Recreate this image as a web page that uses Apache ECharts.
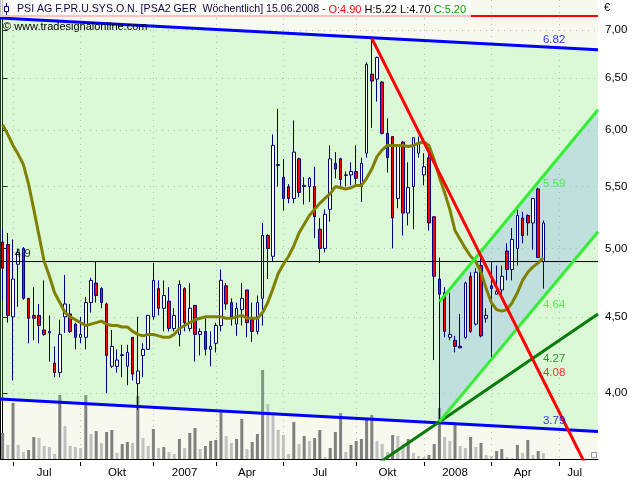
<!DOCTYPE html>
<html><head><meta charset="utf-8">
<script src="https://cdn.jsdelivr.net/npm/echarts@6/dist/echarts.min.js"></script>
<style>html,body{margin:0;padding:0;background:#fff}#c{width:640px;height:480px}</style>
</head><body><div id="c"></div>
<script>
// ---------- data (weekly, PSI AG) ----------
const firstWeek = [2006, 5, 12];   // Monday of first weekly bar
const weekCount = 115;             // bars + empty space to the right
// [open, close, low, high]
const ohlc = [
 [5.05,4.85,4.62,5.15],[5.03,4.51,4.46,5.12],[4.50,4.77,4.08,5.07],[4.88,4.97,4.57,5.00],[5.00,4.63,4.62,5.01],
 [4.63,4.49,4.32,4.63],[4.51,4.49,4.34,4.71],[4.51,4.44,4.32,4.59],[4.41,4.38,4.37,4.76],[4.39,4.40,4.20,4.51],
 [4.19,4.13,4.10,4.30],[4.13,4.38,4.10,4.48],[4.50,4.59,4.39,4.80],[4.52,4.40,4.39,4.59],[4.45,4.36,4.28,4.46],
 [4.36,4.38,4.32,4.50],[4.36,4.60,4.28,4.64],[4.60,4.76,4.53,4.78],[4.74,4.65,4.60,4.90],[4.70,4.60,4.56,4.71],
 [4.59,4.24,4.00,4.60],[4.17,4.30,4.16,4.41],[4.17,4.21,4.13,4.28],[4.24,4.245,4.10,4.31],[4.17,4.26,4.05,4.31],
 [4.36,4.12,4.08,4.36],[4.06,4.14,3.90,4.50],[4.24,4.28,4.10,4.32],[4.28,4.51,4.28,4.51],[4.50,4.76,4.48,4.89],
 [4.70,4.56,4.51,4.76],[4.56,4.65,4.40,4.76],[4.61,4.42,4.40,4.71],[4.42,4.51,4.40,4.56],[4.38,4.73,4.30,4.76],
 [4.70,4.46,4.40,4.71],[4.42,4.56,4.40,4.74],[4.58,4.38,4.20,4.58],[4.38,4.40,4.24,4.42],[4.40,4.28,4.24,4.49],
 [4.28,4.30,4.17,4.40],[4.32,4.44,4.26,4.46],[4.44,4.76,4.40,4.84],[4.72,4.59,4.55,4.74],[4.60,4.50,4.44,4.63],
 [4.45,4.56,4.37,4.60],[4.55,4.63,4.44,4.74],[4.69,4.46,4.36,4.69],[4.48,4.40,4.33,4.60],[4.40,4.60,4.38,4.65],
 [4.63,5.10,4.44,5.20],[5.10,5.00,4.77,5.11],[4.94,5.86,4.90,5.96],[5.68,5.69,5.50,6.20],[5.58,5.40,5.30,5.74],
 [5.50,5.40,5.36,5.52],[5.40,5.80,5.36,6.09],[5.74,5.45,5.41,5.75],[5.50,5.51,5.35,5.58],[5.50,5.57,5.37,5.58],
 [5.50,5.25,5.08,5.67],[5.15,5.00,4.89,5.24],[5.00,5.27,4.97,5.31],[5.31,5.74,5.21,5.86],[5.70,5.65,5.57,5.80],
 [5.74,5.56,5.50,5.75],[5.595,5.60,5.50,5.63],[5.60,5.63,5.51,5.71],[5.63,5.57,5.50,5.86],[5.50,5.70,5.37,5.75],
 [5.79,6.64,5.75,6.66],[6.54,6.47,6.02,6.90],[6.49,6.71,6.27,6.72],[6.46,5.97,5.96,6.47],[5.97,5.75,5.62,6.11],
 [5.94,5.24,5.00,5.94],[5.40,5.86,5.32,5.87],[5.89,5.28,5.10,5.90],[5.28,5.49,5.18,5.71],[5.50,5.93,5.15,5.93],
 [5.79,5.88,5.75,5.94],[5.60,5.67,5.51,5.79],[5.75,5.20,5.14,5.84],[5.25,4.79,4.21,5.25],[4.77,4.66,3.83,4.93],
 [4.67,4.40,4.36,4.71],[4.36,4.38,4.34,4.67],[4.34,4.30,4.26,4.37],[4.30,4.29,4.29,4.52],[4.36,4.74,4.35,4.75],
 [4.79,4.40,4.39,4.82],[4.45,4.82,4.44,4.85],[4.87,4.37,4.36,4.93],[4.49,4.51,4.46,4.56],[4.72,4.70,4.22,4.90],
 [4.66,4.68,4.66,4.87],[4.69,4.79,4.62,4.87],[4.98,4.84,4.76,5.04],[4.84,5.07,4.76,5.16],[5.00,5.26,4.87,5.31],
 [5.24,5.10,5.04,5.29],[5.26,5.20,5.10,5.27],[5.20,5.40,4.99,5.40],[5.48,4.93,4.93,5.49],[4.90,5.20,4.70,5.22]
];
// volume, thousand shares
const volumeK = [
 26,14,56,14,7,9,22,21,13,12, 5,64,33,13,12,11,64,25,28,16, 27,29,6,15,17,16,63,21,13,30,
 11,12,7,5,20,11,26,31,10,13, 18,19,47,23,16,20,40,10,17,25, 89,55,47,29,24,5,37,15,23,18,
 21,29,2,11,27,46,7,14,18,20, 40,44,18,15,7,24,23,15,20,6, 3,2,4,15,51,22,18,35,13,11,
 22,12,16,4,3,8,10,2,1,14, 6,19,4,8,6
];
// moving average
const movingAvg = [
 6.05,5.96,5.86,5.78,5.69,5.52,5.31,5.10,4.90,4.79, 4.67,4.60,4.53,4.50,4.48,4.46,4.44,4.45,4.46,4.47,
 4.45,4.44,4.44,4.43,4.43,4.40,4.38,4.37,4.38,4.38, 4.37,4.36,4.36,4.38,4.42,4.44,4.46,4.48,4.49,4.50,
 4.50,4.50,4.50,4.49,4.49,4.50,4.51,4.49,4.49,4.49, 4.53,4.60,4.70,4.81,4.88,4.94,5.02,5.12,5.19,5.26,
 5.31,5.36,5.40,5.44,5.50,5.49,5.48,5.49,5.51,5.51, 5.57,5.65,5.76,5.82,5.86,5.86,5.86,5.86,5.85,5.86,
 5.88,5.89,5.86,5.73,5.58,5.45,5.31,5.14,5.07,5.00, 4.94,4.90,4.82,4.70,4.60,4.55,4.54,4.55,4.60,4.67,
 4.76,4.82,4.86,4.89,4.93
];
// drawn lines: [weekIndex, price]
const upperBlue  = [[-0.5, 7.13], [114.5, 6.79]];
const lowerBlue  = [[-0.5, 3.965], [114.5, 3.772]];
const redTrend   = [[71, 6.91], [112, 3.59]];
const upperGreen = [[84, 4.606], [114.5, 6.19]];
const lowerGreen = [[84, 3.829], [114.5, 5.13]];
const darkGreen  = [[72, 3.586], [114.5, 4.52]];
const levelLine  = 4.9;
const topLine    = 7.153;
const lineValues = [6.82, 5.59, 4.64, 4.27, 4.08, 3.79];
const labelWeek  = 104;
// axis
const priceTicks = [4, 4.5, 5, 5.5, 6, 6.5, 7];
const quarterTickWeeks = [2, 15, 29, 41, 54, 68, 81, 94, 107];
const monthLabelWeeks = [8, 22, 35, 47, 61, 74, 87, 100, 110];
const monthLabelTexts = ['Jul', 'Okt', '2007', 'Apr', 'Jul', 'Okt', '2008', 'Apr', 'Jul'];
const header = 'PSI AG F.PR.U.SYS.O.N. [PSA2 GER  Wöchentlich] 15.06.2008 - ';
const quote = { o: 'O:4.90', h: 'H:5.22', l: 'L:4.70', c: 'C:5.20' };

// ---------- build ----------
const weeks = [];
for (let k = 0; k < weekCount; k++) {
  const d = new Date(Date.UTC(firstWeek[0], firstWeek[1], firstWeek[2] + 7 * k));
  weeks.push(d.toISOString().slice(0, 10));
}
const FONT = '"Liberation Sans", Arial, sans-serif';
const GRIDC = '#b2c2b2';
const NAVY = '#000080';
const volData = volumeK.map((v, i) => ({
  value: v, itemStyle: { color: (i === 0 || v > volumeK[i - 1]) ? '#808080' : '#c0c0c0' }
}));

function seg(data, color, width, z) {
  return { type: 'line', xAxisIndex: 2, yAxisIndex: 0, data, symbol: 'none', clip: true,
    lineStyle: { color, width }, z, silent: true };
}
function band(upper, lower, fill, z) {
  return { type: 'custom', xAxisIndex: 2, yAxisIndex: 0, z, silent: true, data: [upper[0]],
    renderItem: (p, api) => ({
      type: 'polygon',
      shape: { points: [api.coord(upper[0]), api.coord(upper[1]), api.coord(lower[1]), api.coord(lower[0])] },
      style: { fill }
    }) };
}
const labelColors = ['#0000ff', '#33ee33', '#33ee33', '#007a00', '#ff0000', '#0000ff'];
const labelAbove  = [true, false, false, false, true, true];
const lineLabelData = lineValues.map((v, i) => ({
  value: [labelWeek, v],
  label: { show: true, formatter: v.toFixed(2), color: labelColors[i], position: [0, 0],
    align: 'left', verticalAlign: labelAbove[i] ? 'bottom' : 'top', offset: [0, labelAbove[i] ? -1 : 2],
    fontFamily: FONT, fontSize: 11.5 }
}));

const chart = echarts.init(document.getElementById('c'));
chart.setOption({
  animation: false,
  backgroundColor: '#ffffff',
  grid: { left: 0, right: 42, top: 0, bottom: 21, show: true, backgroundColor: '#f7f9ee', borderWidth: 0 },
  xAxis: [
    { type: 'category', data: weeks, boundaryGap: true,
      axisLine: { show: true, lineStyle: { color: '#000', width: 1 } },
      axisTick: { show: false }, axisLabel: { show: false },
      splitLine: { show: true, alignWithLabel: true, interval: (i) => quarterTickWeeks.includes(i),
        lineStyle: { type: [1, 5], color: GRIDC, width: 1 } } },
    { type: 'category', data: weeks, boundaryGap: true, position: 'bottom', offset: 3,
      axisLine: { show: false },
      axisTick: { show: true, alignWithLabel: true, length: 4, interval: (i) => quarterTickWeeks.includes(i),
        lineStyle: { color: '#000' } },
      axisLabel: { show: true, interval: (i) => monthLabelWeeks.includes(i),
        formatter: (v, i) => monthLabelTexts[monthLabelWeeks.indexOf(i)] || '',
        color: '#000', fontFamily: FONT, fontSize: 11.5, margin: 5 },
      splitLine: { show: false } },
    { type: 'value', min: -0.5, max: weekCount - 0.5, show: false }
  ],
  yAxis: [
    { type: 'log', logBase: 10, position: 'right', min: 3.615, max: 7.331,
      axisLine: { show: true, lineStyle: { color: '#000', width: 1 } },
      axisTick: { show: true, length: 5, customValues: priceTicks, lineStyle: { color: '#000' } },
      axisLabel: { show: true, customValues: priceTicks, margin: 7,
        formatter: (v) => Number(v).toFixed(2).replace('.', ','),
        color: '#000', fontFamily: FONT, fontSize: 11.5 },
      splitLine: { show: true, lineStyle: { type: [1, 5], color: GRIDC, width: 1 } } },
    { type: 'value', min: 0, max: 459, position: 'left',
      axisLine: { show: true, lineStyle: { color: '#000', width: 1 } },
      axisTick: { show: false }, axisLabel: { show: false }, splitLine: { show: false } }
  ],
  series: [
    { type: 'bar', xAxisIndex: 0, yAxisIndex: 1, data: volData, barWidth: 3, z: 1, silent: true },
    band(upperBlue, lowerBlue, 'rgba(120,240,130,0.22)', 2),
    band(upperGreen, lowerGreen, 'rgba(140,180,235,0.35)', 3),
    seg([[-0.5, topLine], [weekCount - 0.5, topLine]], '#ff0000', 2, 4),
    { type: 'candlestick', xAxisIndex: 0, yAxisIndex: 0, data: ohlc, barWidth: 3, z: 5, silent: true,
      itemStyle: { color: '#ffffff', color0: '#ff0000', borderColor: NAVY, borderColor0: NAVY, borderWidth: 1 } },
    seg([[-0.5, levelLine], [weekCount - 0.5, levelLine]], '#000000', 1, 6),
    { type: 'scatter', xAxisIndex: 2, yAxisIndex: 0, symbolSize: 1, z: 6, silent: true,
      itemStyle: { color: 'rgba(0,0,0,0)' },
      data: [{ value: [2.4, levelLine], label: { show: true, formatter: String(levelLine), color: '#000',
        position: [0, 0], align: 'left', verticalAlign: 'bottom', offset: [0, -1], fontFamily: FONT, fontSize: 11.5 } }] },
    { type: 'line', xAxisIndex: 0, yAxisIndex: 0, data: movingAvg, symbol: 'none', z: 7, silent: true,
      lineStyle: { color: '#808000', width: 3 } },
    seg(upperBlue, '#0000ff', 3, 8),
    seg(lowerBlue, '#0000ff', 3, 8),
    seg(darkGreen, '#0a7a0a', 3, 8),
    seg(upperGreen, '#33ee33', 3, 8),
    seg(lowerGreen, '#33ee33', 3, 8),
    seg(redTrend, '#ff0000', 3, 9),
    { type: 'scatter', xAxisIndex: 2, yAxisIndex: 0, symbolSize: 1, z: 10, silent: true,
      itemStyle: { color: 'rgba(0,0,0,0)' }, data: lineLabelData }
  ],
  graphic: [
    { type: 'rect', z: 100, shape: { x: 0, y: 0, width: 471, height: 17 }, style: { fill: 'rgba(255,255,255,0.75)' } },
    { type: 'line', z: 101, shape: { x1: 6.5, y1: 3, x2: 6.5, y2: 15 }, style: { stroke: NAVY, lineWidth: 1 } },
    { type: 'rect', z: 102, shape: { x: 4.5, y: 6.5, width: 4, height: 5 }, style: { fill: '#fff', stroke: NAVY, lineWidth: 1 } },
    { type: 'text', z: 103, x: 17, y: 4, style: {
        text: '{a|' + header + '}{o|' + quote.o + '} {k|' + quote.h + ' ' + quote.l + '} {g|' + quote.c + '}',
        font: '11px ' + FONT,
        rich: { a: { fill: '#0a0a40', fontFamily: FONT, fontSize: 10.6 },
                o: { fill: '#ff0000', fontFamily: FONT, fontSize: 11 },
                k: { fill: '#000000', fontFamily: FONT, fontSize: 11 },
                g: { fill: '#00a000', fontFamily: FONT, fontSize: 11 } } } },
    { type: 'text', z: 103, x: 3, y: 21, style: { text: '© www.tradesignalonline.com', fill: '#000', font: '11px ' + FONT } },
    { type: 'text', z: 103, x: 604, y: 2, style: { text: '€', fill: '#000', font: '11px ' + FONT } },
    { type: 'rect', z: 103, shape: { x: 591.5, y: 452.5, width: 5, height: 5 }, style: { fill: '#fff', stroke: '#999', lineWidth: 1 } }
  ]
});
</script>
</body></html>
